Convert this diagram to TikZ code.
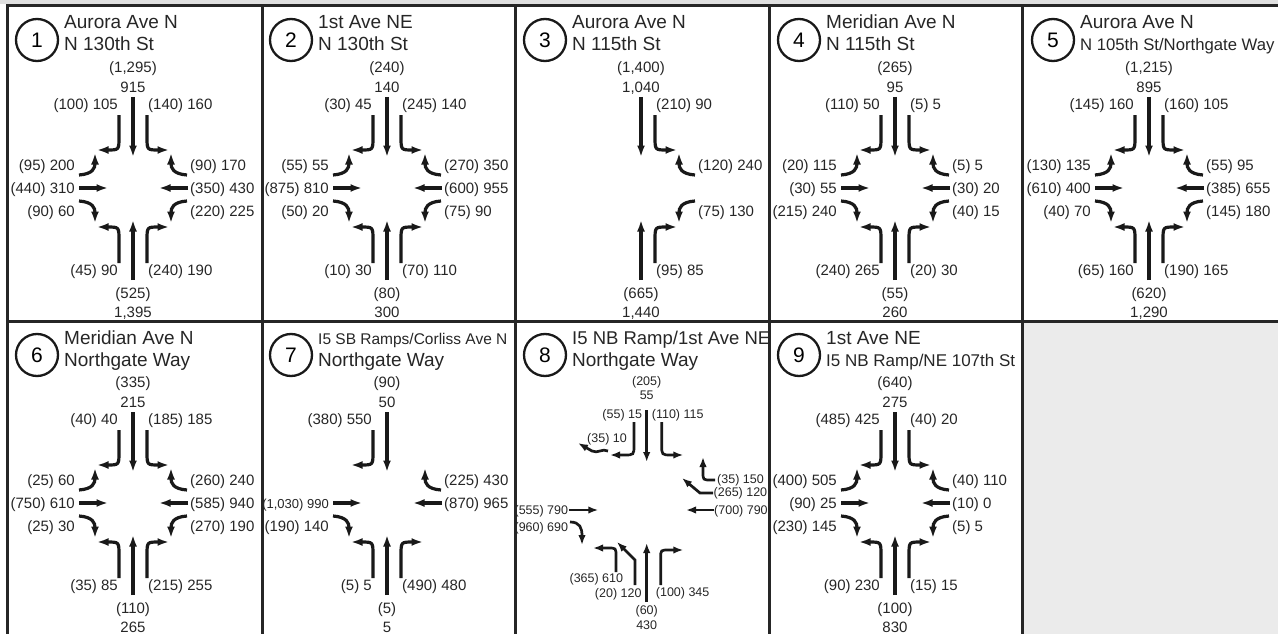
\documentclass[tikz,border=0pt]{standalone}
\usepackage{fontspec}
\setmainfont{Liberation Sans}
\usetikzlibrary{arrows.meta}

% one movement = arrow + its volume label, drawn around the axis of a panel
\newcommand{\junctionhead}[3]{%
	\node[numcirc] (\pn-num) at (-96,34) {#1};
	\node[street] (\pn-st1) at (-69,23) {#2};
	\node[street] (\pn-st2) at (-69,45) {#3};
}
\newcommand{\sbthru}[2]{%
	\node[vol] (\pn-sbpm) at (0,61) {#1};
	\node[vol] (\pn-sbam) at (0,81) {#2};
	\draw[move] (0,91) -- (0,151);
}
\newcommand{\nbthru}[2]{%
	\draw[move] (0,274) -- (0,214);
	\node[vol] (\pn-nbpm) at (0,287) {#1};
	\node[vol] (\pn-nbam) at (0,306) {#2};
}
\newcommand{\sbright}[1]{%
	\draw[move] (-14,109) -- (-14,131) .. controls (-14,144) .. (-26,144) -- (-36,144);
	\node[vol,anchor=east] (\pn-sbr) at (-15,98) {#1};
}
\newcommand{\sbleft}[1]{%
	\draw[move] (14,109) -- (14,131) .. controls (14,144) .. (26,144) -- (36,144);
	\node[vol,anchor=west] (\pn-sbl) at (15,98) {#1};
}
\newcommand{\nbleft}[1]{%
	\draw[move] (-14,257) -- (-14,234) .. controls (-14,221) .. (-26,221) -- (-36,221);
	\node[vol,anchor=east] (\pn-nbl) at (-15,264) {#1};
}
\newcommand{\nbright}[1]{%
	\draw[move] (14,257) -- (14,234) .. controls (14,221) .. (26,221) -- (36,221);
	\node[vol,anchor=west] (\pn-nbr) at (15,264) {#1};
}
\newcommand{\ebleft}[1]{%
	\draw[move] (-54,169) .. controls (-40,168) and (-38,162) .. (-38,147);
	\node[vol,anchor=east] (\pn-ebl) at (-58,159) {#1};
}
\newcommand{\ebthru}[1]{%
	\draw[move] (-54,182) -- (-25,182);
	\node[vol,anchor=east] (\pn-ebt) at (-58,182) {#1};
}
\newcommand{\ebright}[1]{%
	\draw[move] (-54,195) .. controls (-40,196) and (-38,202) .. (-38,217);
	\node[vol,anchor=east] (\pn-ebr) at (-58,205) {#1};
}
\newcommand{\wbright}[1]{%
	\draw[move] (54,169) .. controls (40,168) and (38,162) .. (38,147);
	\node[vol,anchor=west] (\pn-wbr) at (57,159) {#1};
}
\newcommand{\wbthru}[1]{%
	\draw[move] (55,182) -- (26,182);
	\node[vol,anchor=west] (\pn-wbt) at (57,182) {#1};
}
\newcommand{\wbleft}[1]{%
	\draw[move] (54,195) .. controls (40,196) and (38,202) .. (38,217);
	\node[vol,anchor=west] (\pn-wbl) at (57,205) {#1};
}

\begin{document}
\begin{tikzpicture}[
	x=1pt, y=-1pt,
	frame/.style={line width=3pt, draw=black!85},
	move/.style={line width=3.2pt, draw=black!90, -{Latex[length=11.5pt,width=8pt]}},
	smallmove/.style={line width=2.7pt, draw=black!90, -{Latex[length=10pt,width=7.5pt]}},
	vol/.style={font=\fontsize{15}{15}\selectfont, text=black!85, inner sep=0pt, text height=11pt, text depth=0pt},
	smallvol/.style={vol, font=\fontsize{12.5}{12.5}\selectfont, text height=9pt},
	street/.style={font=\fontsize{19}{22}\selectfont, text=black!85, inner sep=0pt, anchor=base west},
	numcirc/.style={draw=black!90, circle, line width=2.3pt, minimum size=42pt, inner sep=0pt, font=\fontsize{21}{21}\selectfont}
	]
	\useasboundingbox (0,0) rectangle (1278,634);
	\fill[black!12] (0,0) rectangle (1278,4.5);
	\fill[black!8] (1022,321) rectangle (1290,640);
	
	% panel grid
	\draw[frame] (1290,6) -- (7,6) -- (7,640);
	\draw[frame] (7,321) -- (1290,321);
	\foreach \xx in {262,515,769,1022}
		\draw[frame] (\xx,6) -- (\xx,640);
	
	% 1
	\begin{scope}[shift={(133,6)}]
		\def\pn{p1}
		\junctionhead{1}{Aurora Ave N}{N 130th St}
		\sbthru{(1,295)}{915}
		\sbright{(100) 105}
		\sbleft{(140) 160}
		\ebleft{(95) 200}
		\ebthru{(440) 310}
		\ebright{(90) 60}
		\wbright{(90) 170}
		\wbthru{(350) 430}
		\wbleft{(220) 225}
		\nbleft{(45) 90}
		\nbright{(240) 190}
		\nbthru{(525)}{1,395}
	\end{scope}
	
	% 2
	\begin{scope}[shift={(387,6)}]
		\def\pn{p2}
		\junctionhead{2}{1st Ave NE}{N 130th St}
		\sbthru{(240)}{140}
		\sbright{(30) 45}
		\sbleft{(245) 140}
		\ebleft{(55) 55}
		\ebthru{(875) 810}
		\ebright{(50) 20}
		\wbright{(270) 350}
		\wbthru{(600) 955}
		\wbleft{(75) 90}
		\nbleft{(10) 30}
		\nbright{(70) 110}
		\nbthru{(80)}{300}
	\end{scope}
	
	% 3
	\begin{scope}[shift={(641,6)}]
		\def\pn{p3}
		\junctionhead{3}{Aurora Ave N}{N 115th St}
		\sbthru{(1,400)}{1,040}
		\sbleft{(210) 90}
		\wbright{(120) 240}
		\wbleft{(75) 130}
		\nbright{(95) 85}
		\nbthru{(665)}{1,440}
	\end{scope}
	
	% 4
	\begin{scope}[shift={(895,6)}]
		\def\pn{p4}
		\junctionhead{4}{Meridian Ave N}{N 115th St}
		\sbthru{(265)}{95}
		\sbright{(110) 50}
		\sbleft{(5) 5}
		\ebleft{(20) 115}
		\ebthru{(30) 55}
		\ebright{(215) 240}
		\wbright{(5) 5}
		\wbthru{(30) 20}
		\wbleft{(40) 15}
		\nbleft{(240) 265}
		\nbright{(20) 30}
		\nbthru{(55)}{260}
	\end{scope}
	
	% 5
	\begin{scope}[shift={(1149,6)}]
		\def\pn{p5}
		\junctionhead{5}{Aurora Ave N}{\fontsize{16.7}{20}\selectfont N 105th St/Northgate Way}
		\sbthru{(1,215)}{895}
		\sbright{(145) 160}
		\sbleft{(160) 105}
		\ebleft{(130) 135}
		\ebthru{(610) 400}
		\ebright{(40) 70}
		\wbright{(55) 95}
		\wbthru{(385) 655}
		\wbleft{(145) 180}
		\nbleft{(65) 160}
		\nbright{(190) 165}
		\nbthru{(620)}{1,290}
	\end{scope}
	
	% 6
	\begin{scope}[shift={(133,321)}]
		\def\pn{p6}
		\junctionhead{6}{Meridian Ave N}{Northgate Way}
		\sbthru{(335)}{215}
		\sbright{(40) 40}
		\sbleft{(185) 185}
		\ebleft{(25) 60}
		\ebthru{(750) 610}
		\ebright{(25) 30}
		\wbright{(260) 240}
		\wbthru{(585) 940}
		\wbleft{(270) 190}
		\nbleft{(35) 85}
		\nbright{(215) 255}
		\nbthru{(110)}{265}
	\end{scope}
	
	% 7
	\begin{scope}[shift={(387,321)}]
		\def\pn{p7}
		\junctionhead{7}{\fontsize{15.5}{17}\selectfont I5 SB Ramps/Corliss Ave N}{Northgate Way}
		\sbthru{(90)}{50}
		\sbright{(380) 550}
		\ebthru{\fontsize{13}{13}\selectfont(1,030) 990}
		\ebright{(190) 140}
		\wbright{(225) 430}
		\wbthru{(870) 965}
		\nbleft{(5) 5}
		\nbright{(490) 480}
		\nbthru{(5)}{5}
	\end{scope}
	
	% 8 -- ramp junction, drawn by hand
	\begin{scope}[shift={(641,321)}]
		\def\pn{p8}
		\junctionhead{8}{\fontsize{18.5}{22}\selectfont I5 NB Ramp/1st Ave NE}{Northgate Way}
		\node[smallvol] (p8-sbpm) at (5.7,60) {(205)};
		\node[smallvol] (p8-sbam) at (5.7,74) {55};
		\draw[smallmove] (5.7,89) -- (5.7,141);
		\node[smallvol,anchor=east] (p8-sbr) at (1.3,93) {(55) 15};
		\draw[smallmove] (-7,101) -- (-7,124) .. controls (-7,134) .. (-17,134) -- (-31,134);
		\node[smallvol,anchor=west] (p8-sbl) at (10.7,93) {(110) 115};
		\draw[smallmove] (20.7,101) -- (20.7,124) .. controls (20.7,134) .. (30.7,134) -- (42.3,134);
		\node[smallvol] (p8-sbhr) at (-34,117) {(35) 10};
		\draw[smallmove] (-33,130) .. controls (-39,127) and (-43,133) .. (-49,130) -- (-63,122);
		
		\node[smallvol,anchor=west] (p8-wbr) at (76,158) {(35) 150};
		\draw[smallmove] (74,159) -- (70,159) .. controls (62,159) .. (62,151) -- (62,136);
		\node[smallvol,anchor=west] (p8-wbbr) at (72.5,171) {(265) 120};
		\draw[smallmove] (72,172) -- (59,172) -- (41,157);
		\node[smallvol,anchor=west] (p8-wbt) at (73,189) {(700) 790};
		\draw[smallmove] (73,189) -- (45,189);
		
		\node[smallvol,anchor=east] (p8-ebt) at (-72.7,189) {(555) 790};
		\draw[smallmove] (-71.7,189) -- (-42.7,189);
		\node[smallvol,anchor=east] (p8-ebr) at (-72.7,206) {(960) 690};
		\draw[smallmove] (-71,201) .. controls (-61,201) and (-59,207) .. (-59,224);
		
		\node[smallvol,anchor=east] (p8-nbl) at (-17.7,257) {(365) 610};
		\draw[smallmove] (-25,251) -- (-25,235) .. controls (-25,227) .. (-33,227) -- (-48,227);
		\node[smallvol,anchor=east] (p8-nbhl) at (0.7,272) {(20) 120};
		\draw[smallmove] (-6,264) -- (-6,239) -- (-24,221);
		\draw[smallmove] (5.7,281) -- (5.7,222);
		\node[smallvol,anchor=west] (p8-nbr) at (14.7,271) {(100) 345};
		\draw[smallmove] (19.7,264) -- (19.7,237) .. controls (19.7,229) .. (28,229) -- (42.3,229);
		\node[smallvol] (p8-nbpm) at (5.7,289) {(60)};
		\node[smallvol] (p8-nbam) at (5.7,304) {430};
	\end{scope}
	
	% 9
	\begin{scope}[shift={(895,321)}]
		\def\pn{p9}
		\junctionhead{9}{1st Ave NE}{\fontsize{17}{20}\selectfont I5 NB Ramp/NE 107th St}
		\sbthru{(640)}{275}
		\sbright{(485) 425}
		\sbleft{(40) 20}
		\ebleft{(400) 505}
		\ebthru{(90) 25}
		\ebright{(230) 145}
		\wbright{(40) 110}
		\wbthru{(10) 0}
		\wbleft{(5) 5}
		\nbleft{(90) 230}
		\nbright{(15) 15}
		\nbthru{(100)}{830}
	\end{scope}
\end{tikzpicture}
\end{document}
